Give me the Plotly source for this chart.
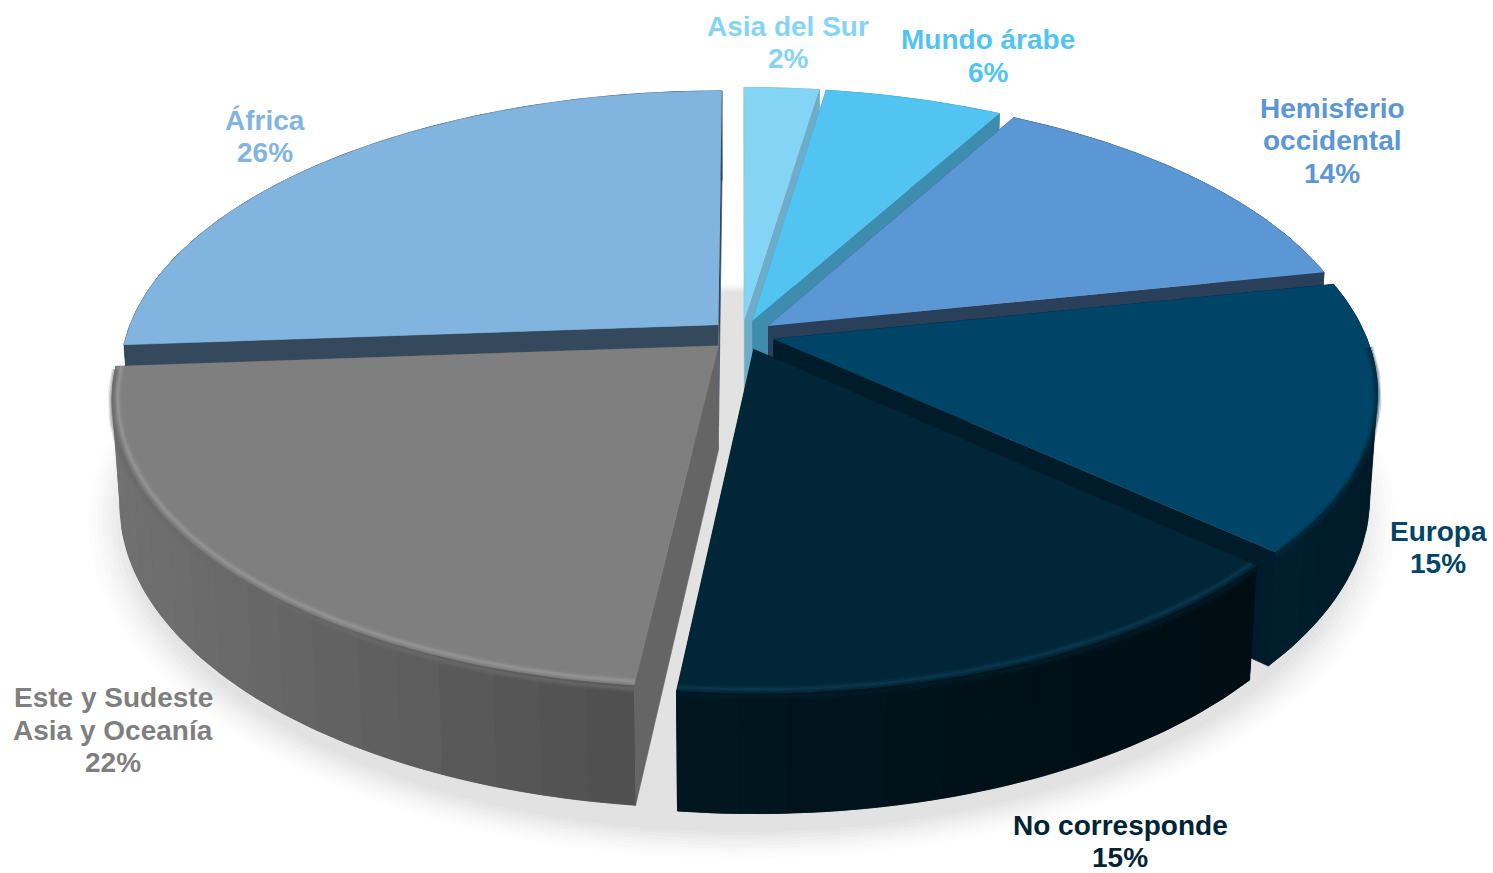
import numpy as np
import plotly.graph_objects as go

# ---- data -------------------------------------------------------------
regions = ["Asia del Sur", "Mundo árabe", "Hemisferio|occidental", "Europa",
           "No corresponde", "Este y Sudeste|Asia y Oceanía", "África"]
pct_labels = ["2%", "6%", "14%", "15%", "15%", "22%", "26%"]
shares = [2.4, 5.7, 13.65, 15.0, 15.0, 22.1, 26.15]

# ---- styles -----------------------------------------------------------
top_colors = ["#84D5F5", "#52C4F2", "#5B97D5", "#004567", "#002638", "#7F7F7F", "#82B4E0"]
text_colors = ["#84D5F5", "#52C4F2", "#5B97D5", "#004567", "#002436", "#7F7F7F", "#82B4E0"]
cut_colors = ["#6EACC9", "#3F8DAE", "#2A405A", "#001C2A", "#00141E", "#656565", "#34495C"]
wall_left = ["#6EACC9", "#3F8DAE", "#2A405A", "#001E2D", "#011620", "#717171", "#34495C"]
wall_right = ["#6EACC9", "#3F8DAE", "#2A405A", "#001B28", "#000D13", "#4E4E4E", "#34495C"]
bevel_colors = [None, None, None, None, "#0E3A50", "#999999", None]
bevel_under = [None, None, None, "#012A3E", "#011D2B", "#6A6A6A", None]
draw_order = [0, 1, 6, 2, 3, 5, 4]
label_pos = [(788, 26), (988, 39.5), (1332, 108), (1438, 531), (1120, 825), (113, 697.5), (265, 120)]
LINE_STEP = 32.5

# ---- projection (tilted disc seen in perspective) ----------------------
CX, CY, SX, SY, H, U, V = 742.0, 335.0, 592.0, 278.0, 104.0, 0.175, 0.012
EXPLODE = 0.055


def project(X, Y, z):
    X, Y, z = np.asarray(X, float), np.asarray(Y, float), np.asarray(z, float)
    s = 1.0 / (1.0 + U * Y + V * z)
    return CX + SX * X * s, CY - SY * Y * s + H * z * s


def hex_mix(a, b, t):
    ca = [int(a[i:i + 2], 16) for i in (1, 3, 5)]
    cb = [int(b[i:i + 2], 16) for i in (1, 3, 5)]
    return "#%02X%02X%02X" % tuple(round(p + (q - p) * t) for p, q in zip(ca, cb))


fig = go.Figure()


def poly(x, y, color, opacity=1.0):
    fig.add_trace(go.Scatter(
        x=list(x), y=list(y), mode="lines", fill="toself", fillcolor=color,
        line=dict(color=color, width=0.6 if opacity == 1.0 else 0),
        opacity=opacity, hoverinfo="skip", showlegend=False))


def stroke(x, y, color, width, opacity=1.0):
    fig.add_trace(go.Scatter(
        x=list(x), y=list(y), mode="lines", line=dict(color=color, width=width),
        opacity=opacity, hoverinfo="skip", showlegend=False))


# soft shadow under the whole pie (shorter towards the back)
t = np.linspace(0, 2 * np.pi, 240)
for grow, alpha in zip(np.linspace(1.10, 1.04, 9), [0.006, 0.008, 0.01, 0.012, 0.013, 0.014, 0.015, 0.015, 0.015]):
    back = np.where(np.cos(t) > 0, 0.6, 1.0)
    sx, sy = project(grow * np.sin(t), grow * np.cos(t) * back, np.full_like(t, 1.2))
    poly(sx, sy, "#000000", alpha)

# slices, back to front
total = sum(shares)
edges = np.cumsum([0.0] + shares) / total * 2 * np.pi
for i in draw_order:
    a0, a1 = edges[i], edges[i + 1]
    mid = (a0 + a1) / 2
    ox, oy = EXPLODE * np.sin(mid), EXPLODE * np.cos(mid)
    th = np.linspace(a0, a1, max(8, int((a1 - a0) * 60)))
    rx, ry = ox + np.sin(th), oy + np.cos(th)

    # cut faces
    for a in (a0, a1):
        ex, ey = ox + np.sin(a), oy + np.cos(a)
        qx, qy = project([ox, ex, ex, ox], [oy, ey, ey, oy], [0, 0, 1, 1])
        poly(qx, qy, cut_colors[i])

    # outer wall: one base shape, then bands for the horizontal gradient
    x_t, y_t = project(rx, ry, np.zeros_like(rx))
    x_b, y_b = project(rx, ry, np.ones_like(rx))
    poly(np.r_[x_t, x_b[::-1]], np.r_[y_t, y_b[::-1]], hex_mix(wall_left[i], wall_right[i], 0.5))
    n_band = max(2, int((a1 - a0) * 14))
    idx = np.linspace(0, len(th) - 1, n_band + 1).astype(int)
    xmin, xmax = x_t.min(), x_t.max()
    for b0, b1 in zip(idx[:-1], idx[1:]):
        f = (x_t[b0:b1 + 1].mean() - xmin) / max(xmax - xmin, 1)
        poly(np.r_[x_t[b0:b1 + 1], x_b[b0:b1 + 1][::-1]], np.r_[y_t[b0:b1 + 1], y_b[b0:b1 + 1][::-1]],
             hex_mix(wall_left[i], wall_right[i], f))

    # top face
    tx, ty = project(np.r_[ox, rx], np.r_[oy, ry], np.zeros(len(rx) + 1))
    poly(tx, ty, top_colors[i])

    # soft bevel along the front rim
    front = ry < -0.02
    fx, fy = rx[front], ry[front]
    if bevel_under[i]:
        lx, ly = project(fx, fy, np.full_like(fx, 0.03))
        for w, op in [(9, 0.18), (6, 0.3), (3, 0.5)]:
            stroke(lx, ly, bevel_under[i], w, op)
    if bevel_colors[i]:
        kx, ky = ox + (fx - ox) * 0.991, oy + (fy - oy) * 0.991
        lx, ly = project(kx, ky, np.zeros_like(kx))
        for w, op in [(8, 0.15), (5, 0.3), (2.5, 0.55)]:
            stroke(lx, ly, bevel_colors[i], w, op)

# labels
annotations = []
for name, pct, col, (lx, ly) in zip(regions, pct_labels, text_colors, label_pos):
    for k, line in enumerate(name.split("|") + [pct]):
        annotations.append(dict(
            x=lx, y=ly + k * LINE_STEP, xref="x", yref="y", text=line, showarrow=False,
            xanchor="center", yanchor="middle",
            font=dict(family="Liberation Sans, Arial, sans-serif", size=28, color=col, weight="bold")))

fig.update_layout(
    width=1493, height=873, margin=dict(l=0, r=0, t=0, b=0),
    paper_bgcolor="white", plot_bgcolor="white", showlegend=False,
    xaxis=dict(range=[0, 1493], visible=False, fixedrange=True),
    yaxis=dict(range=[873, 0], visible=False, fixedrange=True),
    annotations=annotations)

fig.write_html("out.html", post_script="document.body.style.margin='0';",
               config={"displayModeBar": False})
